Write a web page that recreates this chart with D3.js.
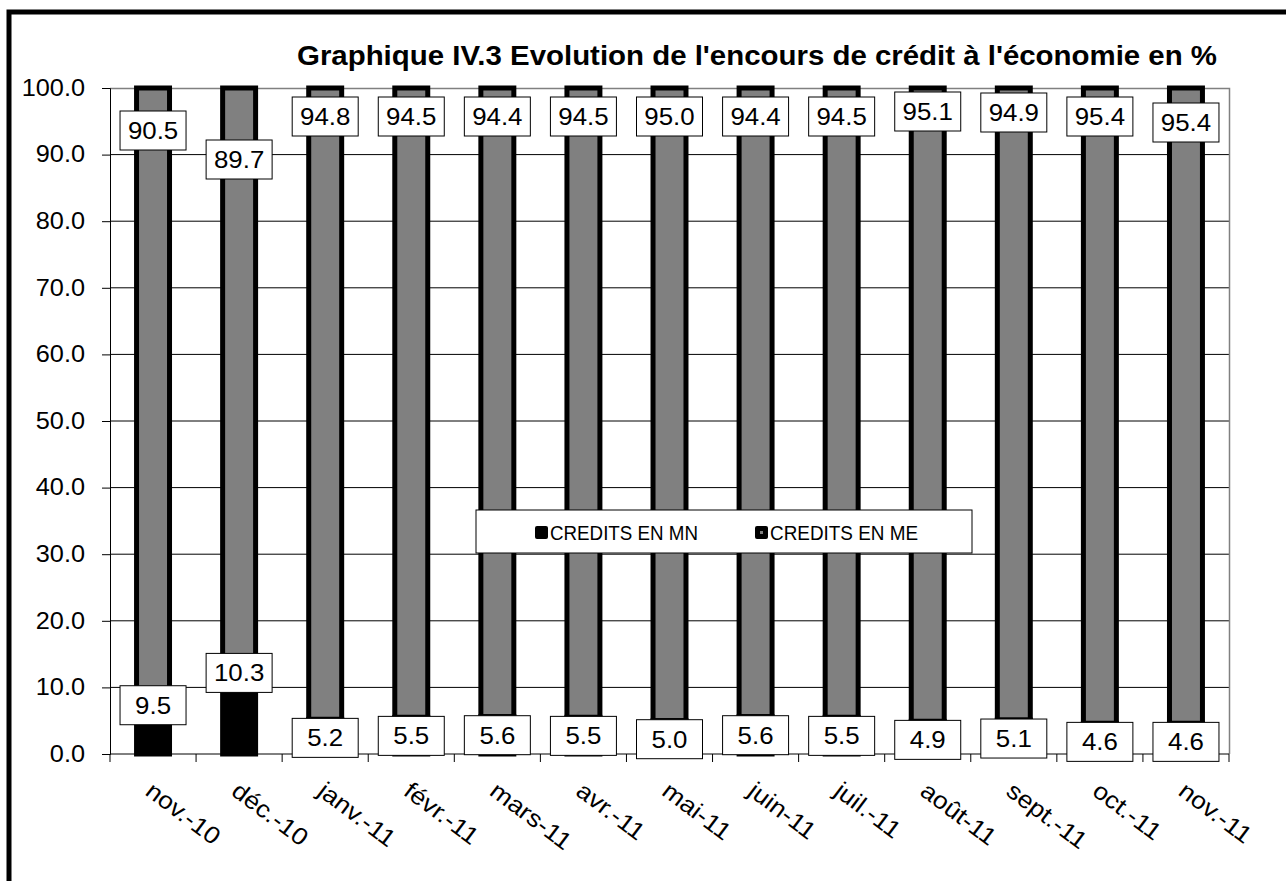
<!DOCTYPE html>
<html>
<head>
<meta charset="utf-8">
<script src="https://cdn.jsdelivr.net/npm/d3@7"></script>
<style>
  body { margin: 0; background: #fff; }
  svg { display: block; font-family: Arial, "Liberation Sans", sans-serif; }
</style>
</head>
<body>
<svg id="chart" width="1286" height="881"></svg>
<script>
const categories = ['nov.-10', 'déc.-10', 'janv.-11', 'févr.-11', 'mars-11', 'avr.-11', 'mai-11',
    'juin-11', 'juil.-11', 'août-11', 'sept.-11', 'oct.-11', 'nov.-11'];
const creditsMN = [9.5, 10.3, 5.2, 5.5, 5.6, 5.5, 5.0, 5.6, 5.5, 4.9, 5.1, 4.6, 4.6];
const creditsME = [90.5, 89.7, 94.8, 94.5, 94.4, 94.5, 95.0, 94.4, 94.5, 95.1, 94.9, 95.4, 95.4];
const yTicks = [0, 10, 20, 30, 40, 50, 60, 70, 80, 90, 100];
const seriesNames = ['CREDITS EN MN', 'CREDITS EN ME'];
const title = "Graphique IV.3 Evolution de l'encours de crédit à l'économie en %";

const svg = d3.select('#chart');
const width = 1286;
const plot = { left: 110, right: 1229, top: 88, bottom: 754 };
const sx = 1.1; // the original text is a bit wider than it is tall

// white page + heavy frame running off the right/bottom edge
svg.append('rect').attr('width', width).attr('height', 881).attr('fill', '#fff');
svg.append('rect')
    .attr('x', 9).attr('y', 12)
    .attr('width', 1400).attr('height', 1000)
    .attr('fill', 'none').attr('stroke', '#000').attr('stroke-width', 5);

const x = d3.scaleBand()
    .domain(categories)
    .range([plot.left, plot.right])
    .paddingInner(0.617)
    .paddingOuter(0.3085);

const y = d3.scaleLinear()
    .domain([0, 100])
    .range([plot.bottom, plot.top]);

// gridlines
svg.append('g')
    .selectAll('line')
    .data(yTicks.filter(d => d > 0 && d < 100))
    .enter()
    .append('line')
    .attr('x1', plot.left).attr('x2', plot.right)
    .attr('y1', d => y(d)).attr('y2', d => y(d))
    .attr('stroke', '#000').attr('stroke-width', 1);

// plot frame (top + right in grey)
svg.append('path')
    .attr('d', `M${plot.left},${y(100) + 0.5}H${plot.right + 0.5}V${plot.bottom}`)
    .attr('fill', 'none').attr('stroke', '#808080').attr('stroke-width', 1.5);

const rows = categories.map((c, i) => ({ c, mn: creditsMN[i], me: creditsME[i] }));

// ME segment (grey, thick black edge) on top of MN
svg.append('g')
    .selectAll('rect')
    .data(rows)
    .enter()
    .append('rect')
    .attr('x', d => x(d.c))
    .attr('width', x.bandwidth())
    .attr('y', d => y(d.mn + d.me))
    .attr('height', d => y(d.mn) - y(d.mn + d.me))
    .attr('fill', '#808080')
    .attr('stroke', '#000')
    .attr('stroke-width', 5);

// MN segment (black)
svg.append('g')
    .selectAll('rect')
    .data(rows)
    .enter()
    .append('rect')
    .attr('x', d => x(d.c))
    .attr('width', x.bandwidth())
    .attr('y', d => y(d.mn))
    .attr('height', d => y(0) - y(d.mn))
    .attr('fill', '#000')
    .attr('stroke', '#000')
    .attr('stroke-width', 5);

// y axis
const yAxis = svg.append('g')
    .attr('transform', `translate(${plot.left},0)`)
    .call(d3.axisLeft(y).tickValues(yTicks).tickFormat(d3.format('.1f')).tickSize(8));
yAxis.select('.domain').attr('stroke', '#000');
yAxis.selectAll('.tick line').attr('stroke', '#000');
yAxis.selectAll('.tick text')
    .attr('x', 0)
    .attr('transform', `translate(-25,0) scale(${sx},1)`)
    .attr('font-size', 23)
    .attr('fill', '#000');

// x axis: line and ticks at band boundaries
const step = x.step();
svg.append('line')
    .attr('x1', plot.left).attr('x2', plot.right)
    .attr('y1', plot.bottom).attr('y2', plot.bottom)
    .attr('stroke', '#000');
svg.append('g')
    .selectAll('line')
    .data(d3.range(categories.length + 1))
    .enter()
    .append('line')
    .attr('x1', i => plot.left + i * step).attr('x2', i => plot.left + i * step)
    .attr('y1', plot.bottom).attr('y2', plot.bottom + 8)
    .attr('stroke', '#000');

svg.append('g')
    .selectAll('text')
    .data(categories)
    .enter()
    .append('text')
    .attr('transform', d => `translate(${x(d) + x.bandwidth() / 2 - 9},${plot.bottom + 40}) rotate(37) scale(${sx},1)`)
    .attr('font-size', 24)
    .text(d => d);

// data labels; a few were dragged by hand in the original
const meNudge = { 'nov.-10': 14, 'déc.-10': 43, 'août-11': -5, 'sept.-11': -4, 'nov.-11': 6 };
const mnNudge = { 'nov.-10': -4, 'déc.-10': -31 };
const boxW = 66, boxH = 39;

function addLabel(g, cx, top, value) {
    g.append('rect')
        .attr('x', cx - boxW / 2).attr('y', top)
        .attr('width', boxW).attr('height', boxH)
        .attr('fill', '#fff').attr('stroke', '#000').attr('stroke-width', 1);
    g.append('text')
        .attr('transform', `translate(${cx},${top + boxH / 2 + 8.5}) scale(${sx},1)`)
        .attr('text-anchor', 'middle')
        .attr('font-size', 23.5)
        .text(d3.format('.1f')(value));
}

const labels = svg.append('g');
rows.forEach(d => {
    const cx = x(d.c) + x.bandwidth() / 2;
    addLabel(labels, cx, y(100) + 9 + (meNudge[d.c] || 0), d.me);
    addLabel(labels, cx, y(d.mn) - 1 + (mnNudge[d.c] || 0), d.mn);
});

// legend
const legend = svg.append('g');
legend.append('rect')
    .attr('x', 476).attr('y', 510).attr('width', 496).attr('height', 43)
    .attr('fill', '#fff').attr('stroke', '#000');
const items = legend.selectAll('g')
    .data(seriesNames)
    .enter()
    .append('g')
    .attr('transform', (d, i) => `translate(${535 + i * 220},526)`);
items.append('rect')
    .attr('width', 13).attr('height', 13).attr('rx', 2)
    .attr('fill', '#000');
items.filter((d, i) => i === 1).append('rect')
    .attr('x', 5).attr('y', 5).attr('width', 3).attr('height', 3)
    .attr('fill', '#808080');
items.append('text')
    .attr('x', 15).attr('y', 14)
    .attr('font-size', 20)
    .attr('textLength', 148).attr('lengthAdjust', 'spacingAndGlyphs')
    .text(d => d);

// title
svg.append('text')
    .attr('x', 297).attr('y', 65)
    .attr('font-size', 28).attr('font-weight', 'bold')
    .attr('textLength', 920).attr('lengthAdjust', 'spacingAndGlyphs')
    .text(title);
</script>
</body>
</html>
